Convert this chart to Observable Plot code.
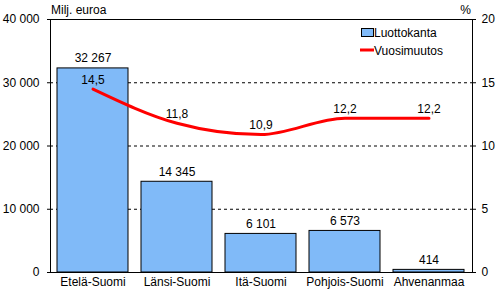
<!DOCTYPE html>
<html><head><meta charset="utf-8">
<script src="https://cdn.jsdelivr.net/npm/d3@7"></script>
<script src="https://cdn.jsdelivr.net/npm/@observablehq/plot@0.6"></script>
<style>
body{margin:0;background:#fff}
svg{font-family:"Liberation Sans",Arial,sans-serif}
</style></head><body><div id="chart"></div>
<script>
const regions = ["Etelä-Suomi","Länsi-Suomi","Itä-Suomi","Pohjois-Suomi","Ahvenanmaa"];
const loanStock = [32267,14345,6101,6573,414];
const annualChange = [14.5,11.8,10.9,12.2,12.2];
const leftTicks = [0,10000,20000,30000,40000];
const rightTicks = [0,5,10,15,20];
const gridValues = [10000,20000,30000];
const ratio = 2000; // 40000 / 20
const seriesNames = ["Luottokanta","Vuosimuutos"];
const leftUnit = "Milj. euroa";
const rightUnit = "%";

const data = regions.map((r,i)=>({region:r, stock:loanStock[i], change:annualChange[i]}));
const fmtThousands = d => d3.format(",")(d).replace(/,/g," ");
const fmtDec = d => d.toFixed(1).replace(".",",");

const chart = Plot.plot({
  width:498, height:295,
  marginLeft:50, marginRight:26, marginTop:19, marginBottom:23,
  style:{fontFamily:"Liberation Sans, Arial, sans-serif", fontSize:"12px", color:"#000", background:"#fff", overflow:"visible"},
  x:{domain:regions, paddingInner:0.15, paddingOuter:0.075, label:null},
  y:{domain:[0,40000], label:null},
  marks:[
    Plot.ruleY(gridValues, {stroke:"#000", strokeDasharray:"3,3", strokeWidth:1}),
    Plot.barY(data,{x:"region", y:"stock", fill:"#80baf8", stroke:"#000", strokeWidth:1}),
    Plot.text(data,{x:"region", y:"stock", text:d=>fmtThousands(d.stock), dy:-10, fill:"#000"}),
    Plot.line(data,{x:"region", y:d=>d.change*ratio, stroke:"#ff0000", strokeWidth:3, curve:"monotone-x"}),
    Plot.text(data,{x:"region", y:d=>d.change*ratio, text:d=>fmtDec(d.change), dy:-9, fill:"#000"}),
    Plot.axisY(leftTicks,{anchor:"left", tickSize:3, tickPadding:8, tickFormat:fmtThousands, label:null}),
    Plot.axisY(rightTicks.map(t=>t*ratio),{anchor:"right", tickSize:3, tickPadding:6, tickFormat:d=>d/ratio, label:null}),
    Plot.axisX({tickSize:0, tickPadding:5, label:null}),
    Plot.frame({stroke:"#000"})
  ]
});

const svg = d3.select(chart);
svg.append("text").attr("x",51).attr("y",14).attr("font-size",12).attr("text-anchor","start").text(leftUnit);
svg.append("text").attr("x",471).attr("y",14).attr("font-size",12).attr("text-anchor","end").text(rightUnit);
const lg = svg.append("g").attr("font-size",12).attr("text-anchor","start");
lg.append("rect").attr("x",361.5).attr("y",28.5).attr("width",12).attr("height",8).attr("fill","#80baf8").attr("stroke","#000");
lg.append("text").attr("x",374).attr("y",37).text(seriesNames[0]);
lg.append("line").attr("x1",360).attr("x2",374).attr("y1",50).attr("y2",50).attr("stroke","#ff0000").attr("stroke-width",3);
lg.append("text").attr("x",374).attr("y",55).text(seriesNames[1]);

document.getElementById("chart").append(chart);
</script></body></html>
